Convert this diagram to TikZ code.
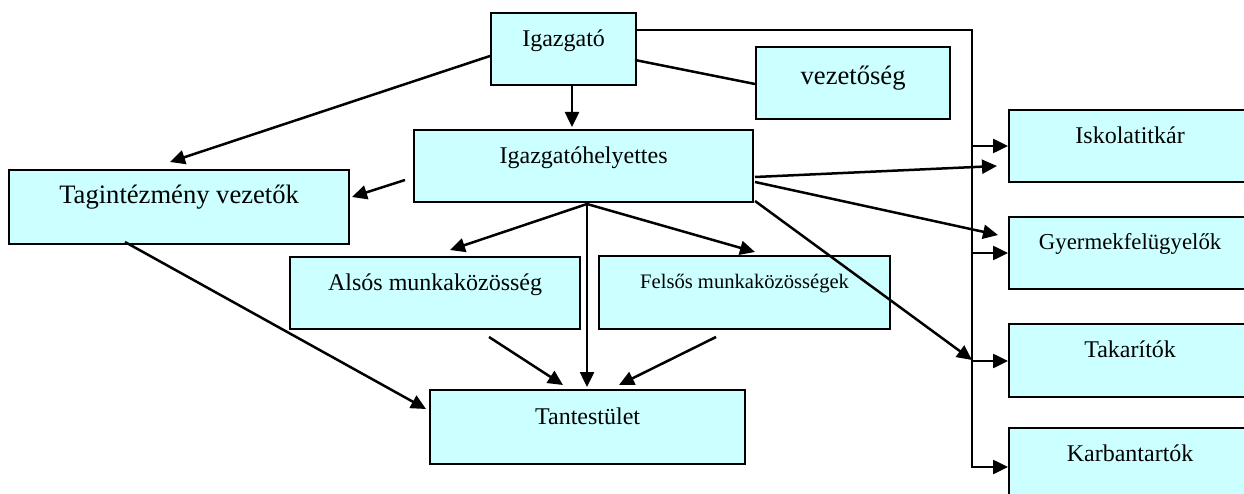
\documentclass[tikz,border=0pt]{standalone}
\usepackage{fontspec}
\setmainfont{Liberation Serif}
\usetikzlibrary{arrows.meta}
\definecolor{boxfill}{HTML}{CCFFFF}
\newcommand{\myfs}[1]{\fontsize{#1}{#1}\selectfont}
\tikzset{
  orgbox/.style={draw=black, line width=2.2pt, fill=boxfill, anchor=north west,
    inner xsep=0pt, inner ysep=0pt, align=center, text height=33pt, font=\myfs{24}},
  conn/.style={line width=2.5pt, draw=black},
  arr/.style={conn, -{Triangle[length=15pt,width=14pt]}},
}
\begin{document}
\begin{tikzpicture}[x=1pt,y=-1pt]
\useasboundingbox (0,0) rectangle (1244,494);
\clip (0,0) rectangle (1244,494);

% boxes
\node[orgbox, minimum width=145pt, text depth=39pt] (ig) at (490,12) {Igazgató};
\node[orgbox, minimum width=194pt, text height=37pt, text depth=35pt, font=\myfs{26.6}] (vez) at (755,46) {vezetőség};
\node[orgbox, minimum width=339pt, text depth=39pt] (hely) at (413,129) {Igazgatóhelyettes};
\node[orgbox, minimum width=340pt, text depth=41pt, font=\myfs{26.6}] (tag) at (8,169) {Tagintézmény vezetők};
\node[orgbox, minimum width=290pt, text depth=39pt] (als) at (289,256) {Alsós munkaközösség};
\node[orgbox, minimum width=291pt, text height=32pt, text depth=41pt, font=\myfs{20.6}] (fel) at (598,255) {Felsős munkaközösségek};
\node[orgbox, minimum width=315pt, text height=34pt, text depth=40pt] (tan) at (429,389) {Tantestület};
\node[orgbox, minimum width=242pt, text depth=39pt] (isk) at (1008,109) {Iskolatitkár};
\node[orgbox, minimum width=242pt, text height=32pt, text depth=40pt, font=\myfs{22.8}] (gye) at (1008,216) {Gyermekfelügyelők};
\node[orgbox, minimum width=242pt, text depth=40pt] (tak) at (1008,323) {Takarítók};
\node[orgbox, minimum width=242pt, text depth=40pt] (kar) at (1008,427) {Karbantartók};

% free ends
\coordinate (igR) at (635,30);
\coordinate (vbot) at (972,468);
\coordinate (b1) at (972,146);
\coordinate (b2) at (972,253);
\coordinate (b3) at (972,361);
\coordinate (b4) at (972,467);
\coordinate (igV1) at (635,60);
\coordinate (igV2) at (755,84);
\coordinate (igD1) at (572,85);
\coordinate (igD2) at (572,127);
\coordinate (igT1) at (490,56);
\coordinate (igT2) at (170,162);
\coordinate (hT1) at (405,180);
\coordinate (hT2) at (352,197);
\coordinate (hb) at (587,204);
\coordinate (hA) at (450,250);
\coordinate (hF) at (755,252);
\coordinate (hTan) at (587,387);
\coordinate (hI1) at (755,177);
\coordinate (hI2) at (997,166);
\coordinate (hG1) at (755,182);
\coordinate (hG2) at (998,235);
\coordinate (hK1) at (755,201);
\coordinate (hK2) at (972,360);
\coordinate (aT1) at (489,337);
\coordinate (aT2) at (563,385);
\coordinate (fT1) at (716,337);
\coordinate (fT2) at (619,385);
\coordinate (tT1) at (125,242);
\coordinate (tT2) at (426,409);

% connectors
\draw[conn] (igR) -| (vbot);
\draw[arr] (b1) -- (isk.west |- b1);
\draw[arr] (b2) -- (gye.west |- b2);
\draw[arr] (b3) -- (tak.west |- b3);
\draw[arr] (b4) -- (kar.west |- b4);
\draw[conn] (igV1) -- (igV2);
\draw[arr] (igD1) -- (igD2);
\draw[arr] (igT1) -- (igT2);
\draw[arr] (hT1) -- (hT2);
\draw[arr] (hb) -- (hA);
\draw[arr] (hb) -- (hF);
\draw[arr] (hb) -- (hTan);
\draw[arr] (hI1) -- (hI2);
\draw[arr] (hG1) -- (hG2);
\draw[arr] (hK1) -- (hK2);
\draw[arr] (aT1) -- (aT2);
\draw[arr] (fT1) -- (fT2);
\draw[arr] (tT1) -- (tT2);
\end{tikzpicture}
\end{document}
